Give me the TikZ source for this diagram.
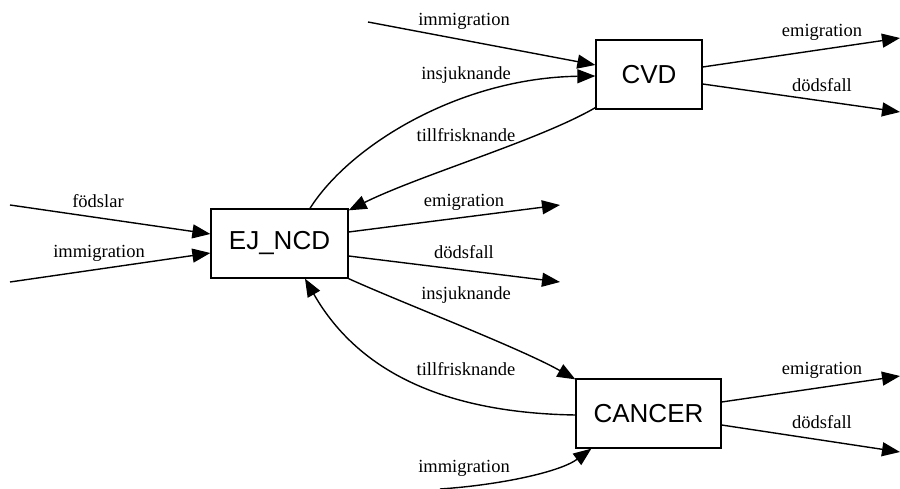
\documentclass[tikz,border=0pt]{standalone}
\usepackage{fontspec}
\setmainfont{Liberation Serif}
\newfontfamily\boxfont{Liberation Sans}
\usetikzlibrary{arrows.meta}
\begin{document}
\begin{tikzpicture}[x=1pt,y=-1pt,
  box/.style={draw,line width=1.3pt,rectangle,inner sep=0pt,minimum height=69pt,font=\boxfont\fontsize{26}{30}\selectfont},
  lbl/.style={inner sep=0pt,font=\fontsize{18.5}{22}\selectfont},
  flow/.style={line width=1.4pt,-{Triangle[length=18pt,width=14pt]}}]
\useasboundingbox (0,0) rectangle (900,489);
\node[box,minimum width=137pt] (ej) at (279.5,243.5) {EJ\_NCD};
\node[box,minimum width=106pt] (cvd) at (649,74.5) {CVD};
\node[box,minimum width=145pt] (cancer) at (648.5,413.5) {CANCER};
% free ends
\coordinate (fodIn) at (10,205);
\coordinate (immIn) at (10,282);
\coordinate (cvdImmIn) at (368,22);
\coordinate (ejEm) at (560,205);
\coordinate (ejDo) at (560,282);
\coordinate (canImmIn) at (440,489);
\coordinate (cvdEm) at (900,38);
\coordinate (cvdDo) at (900,112);
\coordinate (canEm) at (900,376);
\coordinate (canDo) at (900,452);
% edges
\draw[flow] (fodIn) -- ([yshift=9.5pt]ej.west);
\draw[flow] (immIn) -- ([yshift=-9.5pt]ej.west);
\draw[flow] (cvdImmIn) -- ([yshift=9.5pt]cvd.west);
\draw[flow] ([xshift=30.5pt]ej.north) .. controls (350,145) and (460,78) .. ([yshift=-1.5pt]cvd.west);
\draw[flow] ([yshift=2pt]cvd.south west) .. controls (540,140) and (420,175) .. ([yshift=-2pt]ej.north east);
\draw[flow] ([yshift=11.5pt]ej.east) -- (ejEm);
\draw[flow] ([yshift=-12.5pt]ej.east) -- (ejDo);
\draw[flow] (ej.south east) .. controls (400,302) and (520,348) .. ([yshift=-1pt]cancer.north west);
\draw[flow] ([yshift=-1.5pt]cancer.west) .. controls (450,413) and (360,375) .. ([xshift=25.5pt]ej.south);
\draw[flow] (canImmIn) .. controls (500,485) and (560,472) .. ([xshift=16pt]cancer.south west);
\draw[flow] ([yshift=7.5pt]cvd.east) -- (cvdEm);
\draw[flow] ([yshift=-9.5pt]cvd.east) -- (cvdDo);
\draw[flow] ([yshift=11.5pt]cancer.east) -- (canEm);
\draw[flow] ([yshift=-11.5pt]cancer.east) -- (canDo);
% labels
\node[lbl] (l1) at (98,201) {födslar};
\node[lbl] (l2) at (99,253) {immigration};
\node[lbl] (l3) at (464,21) {immigration};
\node[lbl] (l4) at (466,75) {insjuknande};
\node[lbl] (l5) at (466,135) {tillfrisknande};
\node[lbl] (l6) at (464,202) {emigration};
\node[lbl] (l7) at (464,252) {dödsfall};
\node[lbl] (l8) at (466,295) {insjuknande};
\node[lbl] (l9) at (466,369) {tillfrisknande};
\node[lbl] (l10) at (464,468) {immigration};
\node[lbl] (l11) at (822,32) {emigration};
\node[lbl] (l12) at (822,85) {dödsfall};
\node[lbl] (l13) at (822,370) {emigration};
\node[lbl] (l14) at (822,422) {dödsfall};
\end{tikzpicture}
\end{document}
